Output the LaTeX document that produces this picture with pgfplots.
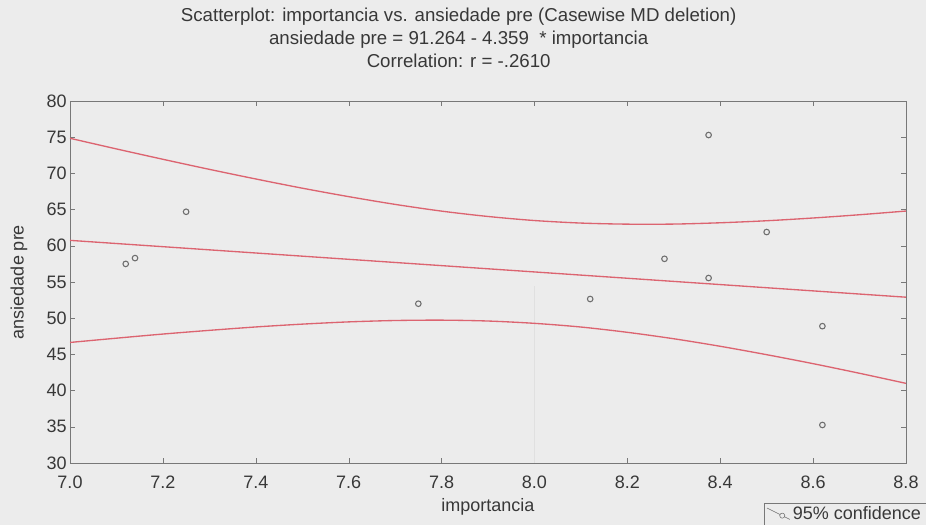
\documentclass[border=0pt]{standalone}
\usepackage{fontspec}
\setmainfont{Liberation Sans}
\usepackage{pgfplots}
\pgfplotsset{compat=1.18}

\definecolor{bg}{RGB}{236,236,236}
\definecolor{fitred}{RGB}{220,100,112}
\definecolor{ptgray}{RGB}{110,110,110}
\definecolor{framegray}{RGB}{120,120,120}

\begin{document}
\begin{tikzpicture}
\fill[bg] (0,0) rectangle (694.5pt,393.75pt);
\useasboundingbox (0,0) rectangle (694.5pt,393.75pt);

\node[align=center, font=\fontsize{14}{17.25}\selectfont, text=black!78]
  at (344pt,365.25pt)
  {Scatterplot: importancia vs. ansiedade pre (Casewise MD deletion)\\
   ansiedade pre = 91.264 - 4.359~ * importancia\\
   Correlation: r = -.2610};

\begin{axis}[
    at={(52.5pt,46.5pt)}, anchor=south west,
    scale only axis,
    width=627pt, height=271.5pt,
    xmin=7.0, xmax=8.8, ymin=30, ymax=80,
    xtick={7.0,7.2,...,8.8},
    ytick={30,35,...,80},
    xticklabel style={yshift=-6pt, /pgf/number format/.cd, fixed, fixed zerofill, precision=1},
    yticklabel style={xshift=1pt},
    /pgf/number format/assume math mode=true,
    tick label style={font=\fontsize{13.5}{15}\selectfont, text=black!78},
    tick align=inside,
    major tick length=4pt,
    tick style={framegray},
    axis line style={framegray},
    xlabel={importancia},
    ylabel={ansiedade pre},
    label style={font=\fontsize{13.5}{15}\selectfont, text=black!78},
    xlabel style={at={(axis description cs:0.5,-0.122)}, anchor=center},
    ylabel style={at={(axis description cs:-0.061,0.5)}, anchor=center},
    legend style={at={(axis description cs:0.830,-0.1105)}, anchor=north west,
        draw=framegray, fill=bg, font=\fontsize{13.5}{15}\selectfont,
        inner xsep=2pt, inner ysep=0.5pt, text=black!78},
    legend cell align=left,
]
% faint gridline remnant
\addplot[draw=black!12, line width=0.8pt, forget plot] coordinates {(8.0,30) (8.0,54.5)};

% upper 95% band
\addplot[fitred, line width=1pt, smooth, forget plot] coordinates {
(7.0,74.85) (7.1,73.38) (7.2,71.95) (7.3,70.56) (7.4,69.23) (7.5,67.96)
(7.6,66.79) (7.7,65.72) (7.8,64.79) (7.9,64.05) (8.0,63.49) (8.1,63.14)
(8.2,62.99) (8.3,63.00) (8.4,63.18) (8.5,63.46) (8.6,63.84) (8.7,64.29) (8.8,64.80)};
% lower 95% band
\addplot[fitred, line width=1pt, smooth, forget plot] coordinates {
(7.0,46.65) (7.1,47.24) (7.2,47.81) (7.3,48.32) (7.4,48.79) (7.5,49.18)
(7.6,49.49) (7.7,49.68) (7.8,49.73) (7.9,49.61) (8.0,49.29) (8.1,48.78)
(8.2,48.05) (8.3,47.16) (8.4,46.12) (8.5,44.96) (8.6,43.72) (8.7,42.39) (8.8,41.00)};
% regression line
\addplot[fitred, line width=1pt, forget plot] coordinates {(7.0,60.75) (8.8,52.90)};

% observations
\addplot[only marks, mark=o, mark size=2.1pt, ptgray, mark options={line width=0.8pt}, forget plot] coordinates {
(7.12,57.5) (7.14,58.3) (7.25,64.7) (7.75,52.0) (8.12,52.65) (8.28,58.2)
(8.375,55.55) (8.375,75.3) (8.5,61.9) (8.62,48.9) (8.62,35.25)};

\addlegendimage{legend image code/.code={
  \draw[ptgray] (0cm,0.16cm) -- (0.6cm,-0.14cm);
  \draw[ptgray, fill=bg] (0.4cm,-0.04cm) circle (1.9pt);}}
\addlegendentry{95\% confidence}
\end{axis}
\end{tikzpicture}
\end{document}
